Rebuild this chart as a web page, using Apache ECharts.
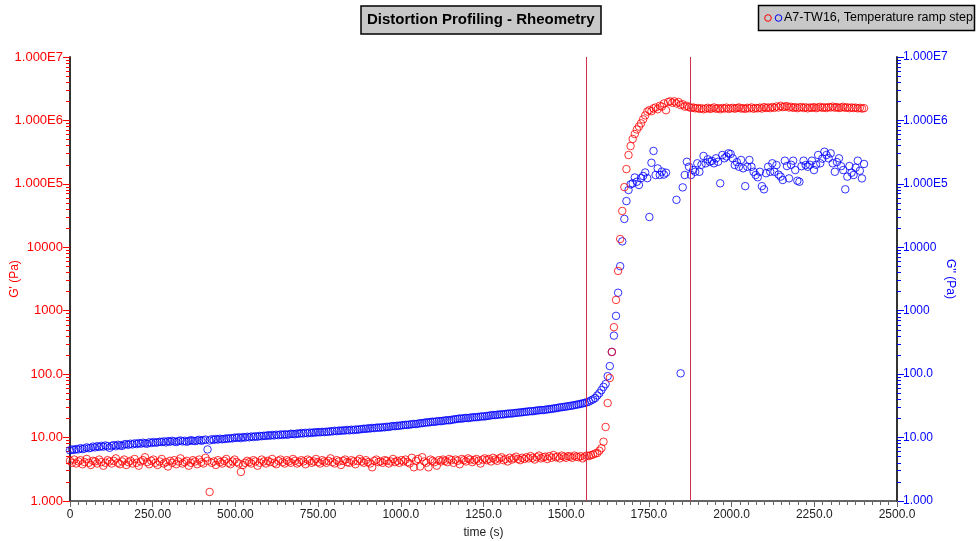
<!DOCTYPE html>
<html>
<head>
<meta charset="utf-8">
<script src="https://cdn.jsdelivr.net/npm/echarts@6/dist/echarts.min.js"></script>
<style>
html,body{margin:0;padding:0;background:#fff;}
#chart{width:978px;height:541px;}
</style>
</head>
<body>
<div id="chart"></div>
<script>
// sampling interval of the measurement (s); point i is at time i * T_STEP
const T_STEP = 6.3;

// G' (Pa), red, left axis
const gPrimeFlat = [
  4.3,4.0,4.5,3.9,4.2,4.4,3.8,4.1,4.6,4.0,3.7,4.3,4.2,3.9,4.5,4.1,3.6,4.0,4.4,4.2,
  3.9,4.3,4.7,4.0,3.8,4.2,4.5,3.7,4.1,4.3,3.9,4.6,4.0,3.6,4.2,4.4,4.9,4.1,3.8,4.3,
  4.5,4.0,3.7,4.2,4.6,3.9,4.1,3.5,4.3,4.0,4.4,3.8,4.2,4.7,3.9,4.1,4.3,3.6,4.0,4.4,
  4.2,3.8,4.5,4.1,3.9,4.8,4.3,1.39,4.0,4.2,3.7,4.4,4.1,3.9,4.3,4.6,4.0,3.8,4.2,4.5,
  4.1,3.9,2.87,3.7,4.0,4.3,4.1,3.9,4.4,4.2,3.6,4.0,4.5,4.2,3.9,4.3,4.1,4.6,4.0,3.8,
  4.3,4.5,4.1,3.9,4.4,4.2,4.0,4.6,4.3,3.9,4.1,4.4,4.2,3.8,4.5,4.3,4.0,4.2,4.6,4.1,
  3.9,4.4,4.2,4.0,4.3,4.7,4.1,3.9,4.4,4.2,3.7,4.3,4.5,4.1,4.0,4.4,4.2,3.8,4.3,4.6,
  4.2,4.0,4.4,4.1,3.9,3.4,4.3,4.5,4.1,4.2,4.0,4.4,4.3,3.9,4.2,4.6,4.1,4.3,4.0,4.4,
  4.2,4.5,4.1,3.9,4.8,3.4,4.3,4.6,3.5,4.9,4.2,4.0,3.4,4.5,4.3,4.1,3.6,4.4,4.2,4.5,
  4.3,4.1,4.6,4.4,4.0,4.5,4.3,3.8,4.6,4.4,4.2,4.7,4.5,4.1,4.4,4.6,4.3,3.9,4.5,4.7,
  4.4,4.6,4.2,4.8,4.5,4.3,4.7,4.9,4.4,4.6,4.2,4.8,4.5,4.7,5.0,4.6,4.4,4.8,4.6,4.9,
  4.7,5.1,4.8,4.5,4.9,5.2,4.7,4.9,5.0,4.6,5.1,4.8,5.3,4.9,5.0,4.7,5.2,5.0,4.8,5.1,
  5.0,4.8,5.2,5.0,4.9,5.1,4.7,5.0,5.2,5.1,5.3
];
const gPrimeRise = [
  5.4,5.6,5.7,6.2,6.8,8.6,
  14.7,35,87,224,550,1480,4240,13500,37400,89000,171000,285000,395000,510000,610000,
  720000,800000,900000,1.04e6,1.2e6,1.38e6,1.45e6,1.4e6,1.55e6,1.6e6,1.5e6,1.7e6,1.65e6,
  1.85e6,1.45e6,1.95e6,2.0e6,1.9e6,2.0e6,1.85e6,1.95e6,1.75e6,1.8e6,1.65e6,1.7e6
];
const gPrimePlateau = [
  1.62e6,1.58e6,1.6e6,1.55e6,1.57e6,1.52e6,1.56e6,1.5e6,1.54e6,1.58e6,1.52e6,1.55e6,1.6e6,1.53e6,1.56e6,1.5e6,1.57e6,1.54e6,1.59e6,1.52e6,
  1.55e6,1.58e6,1.53e6,1.57e6,1.6e6,1.54e6,1.56e6,1.52e6,1.58e6,1.55e6,1.6e6,1.53e6,1.57e6,1.55e6,1.59e6,1.54e6,1.62e6,1.57e6,1.6e6,1.56e6,
  1.63e6,1.58e6,1.66e6,1.6e6,1.7e6,1.62e6,1.65e6,1.68e6,1.6e6,1.64e6,1.58e6,1.62e6,1.56e6,1.6e6,1.63e6,1.57e6,1.61e6,1.55e6,1.6e6,1.58e6,
  1.62e6,1.56e6,1.6e6,1.64e6,1.58e6,1.61e6,1.57e6,1.63e6,1.6e6,1.65e6,1.59e6,1.62e6,1.57e6,1.6e6,1.64e6,1.58e6,1.61e6,1.56e6,1.6e6,1.57e6,
  1.59e6,1.55e6,1.58e6,1.54e6,1.56e6
];

// G'' (Pa), blue, right axis (null = no point recorded)
const gDoubleFlat = [
  6.3,6.5,6.4,6.6,6.5,6.8,6.6,6.7,7.0,6.8,6.9,7.2,
  7.0,7.3,7.1,7.4,7.2,7.5,7.3,6.9,7.4,7.6,7.3,7.7,7.5,7.4,7.8,7.9,
  7.7,8.0,7.8,8.1,7.9,8.2,8.0,8.3,8.1,8.0,8.4,8.2,8.5,8.3,8.4,8.6,
  8.5,8.7,8.4,8.8,8.6,8.9,8.7,8.5,8.8,9.0,8.7,8.9,8.6,8.8,9.1,8.9,
  8.8,9.0,9.2,8.9,9.1,9.3,6.5,9.0,9.4,9.2,9.5,9.3,9.6,9.4,9.5,9.7,
  9.6,9.8,9.7,10.0,9.9,10.1,9.8,10.2,10.0,10.3,10.1,10.4,10.2,10.5,10.3,10.6,
  10.5,10.7,10.6,10.9,10.7,11.0,10.8,11.1,10.9,11.2,11.0,11.3,11.1,11.2,11.5,11.4,
  11.3,11.6,11.5,11.8,11.6,11.9,11.7,12.0,11.8,12.1,12.0,12.2,12.1,12.3,12.2,12.4,
  12.3,12.6,12.5,12.8,12.6,12.9,12.8,13.0,12.9,13.2,13.0,13.3,13.1,13.4,13.3,13.5,
  13.6,13.8,13.7,14.0,13.9,14.2,14.1,14.3,14.4,14.3,14.6,14.5,14.8,14.7,15.0,15.2,
  15.1,15.4,15.3,15.6,15.7,15.9,15.8,16.1,16.2,16.4,16.3,16.6,16.8,16.9,17.1,17.4,
  17.3,17.6,17.8,17.7,18.0,18.2,18.1,18.4,18.6,18.8,18.7,19.0,19.3,19.5,19.7,20.0,
  19.9,20.2,20.4,20.3,20.6,20.8,21.0,20.9,21.2,21.4,21.6,21.5,21.9,22.1,22.4,22.7,
  22.6,22.9,23.1,23.3,23.2,23.6,23.8,24.0,23.9,24.3,24.5,24.7,24.9,25.1,25.4,25.6,
  25.8,26.1,26.0,26.4,26.7,26.9,27.2,27.1,27.5,27.8,28.1,28.3,28.7,29.0,29.4,29.9,
  30.1,30.5,30.8,31.2,31.6,32.0,32.4,33.0,33.4,34.0,34.6,35.2,36.0,37.0,38.5,40.0
];
const gDoubleRise = [
  42,46,50,56,63,70,93,134,224,405,830,1920,5040,12400,28000,53500,80000,
  98000,102000,126000,108000,96000,123000,133000,151000,123000,30000,215000,330000,
  138000,175000,138000,156000,140000,150000,null,null,null,null,56000,null,103,88000
];
const gDoublePlateau = [
  138000,223000,186000,138000,165000,155000,211000,155000,200000,275000,
  211000,244000,223000,230000,211000,253000,223000,102000,285000,253000,
  270000,303000,296000,253000,198000,220000,186000,238000,176000,92000,
  186000,238000,186000,155000,138000,127000,155000,92000,82000,147000,
  186000,155000,211000,155000,198000,140000,130000,115000,232000,191000,
  122000,200000,232000,165000,112000,108000,190000,232000,198000,186000,
  200000,232000,165000,200000,285000,211000,250000,321000,285000,253000,
  303000,211000,155000,220000,253000,190000,165000,82000,130000,191000,
  150000,138000,180000,232000,161000,122000,206000
];

// step markers (s)
const markerTimes = [1560, 1874];

// axis tick labels
const xTickLabels = ['0','250.00','500.00','750.00','1000.0','1250.0','1500.0','1750.0','2000.0','2250.0','2500.0'];
const yTickLabels = ['1.000','10.00','100.0','1000','10000','1.000E5','1.000E6','1.000E7'];

const gPrime = gPrimeFlat.concat(gPrimeRise, gPrimePlateau);
const gDouble = gDoubleFlat.concat(gDoubleRise, gDoublePlateau);
function toPoints(arr){
  const out = [];
  arr.forEach((v, i) => { if (v != null) out.push([+(i * T_STEP).toFixed(2), v]); });
  return out;
}

// log-position minor ticks (2..9 per decade) on overlay axes (log10 space)
const minorLog = [];
for (let d = 0; d < 7; d++) for (let k = 2; k <= 9; k++) minorLog.push(d + Math.log10(k));

const FONT = 'Liberation Sans, Arial, Helvetica, sans-serif';
const RED = '#ff0000', BLUE = '#0000ff', AXIS = '#333333';

const chart = echarts.init(document.getElementById('chart'), null, {renderer: 'canvas'});
function yLabel(v){ const e = Math.round(Math.log10(v)); return yTickLabels[e] || ''; }

chart.setOption({
  animation: false,
  backgroundColor: '#ffffff',
  title: {
    text: 'Distortion Profiling - Rheometry',
    left: 361, top: 6,
    padding: [5, 7, 5, 6],
    backgroundColor: '#c8c8c8',
    borderColor: '#000', borderWidth: 1.5,
    textStyle: {fontFamily: FONT, fontSize: 15, fontWeight: 'bold', color: '#000', lineHeight: 18}
  },
  graphic: [
    {type: 'rect', shape: {x: 758.5, y: 5.5, width: 216, height: 25}, style: {fill: '#c8c8c8', stroke: '#000', lineWidth: 1.5}},
    {type: 'circle', shape: {cx: 768, cy: 18, r: 3.3}, style: {fill: 'none', stroke: RED, lineWidth: 1}},
    {type: 'circle', shape: {cx: 778.5, cy: 18, r: 3.3}, style: {fill: 'none', stroke: BLUE, lineWidth: 1}},
    {type: 'text', x: 784, y: 18, style: {text: 'A7-TW16, Temperature ramp step', fontFamily: FONT, fontSize: 12.5, fill: '#000', verticalAlign: 'middle'}}
  ],
  grid: {left: 70, right: 81, top: 57, bottom: 40, outerBoundsMode: 'none'},
  xAxis: {
    type: 'value', min: 0, max: 2500, interval: 250,
    name: 'time (s)', nameLocation: 'middle', nameGap: 26, nameMoveOverlap: false,
    nameTextStyle: {fontFamily: FONT, fontSize: 12, color: '#222'},
    axisLine: {show: true, onZero: false, lineStyle: {color: AXIS, width: 1.5}},
    axisTick: {show: true, length: 6, lineStyle: {color: '#666'}},
    minorTick: {show: true, splitNumber: 10, length: 4, lineStyle: {color: '#666'}},
    splitLine: {show: false},
    axisLabel: {fontFamily: FONT, fontSize: 12, color: '#222', margin: 8,
      formatter: v => xTickLabels[Math.round(v / 250)]}
  },
  yAxis: [
    {
      type: 'log', logBase: 10, min: 1, max: 1e7, position: 'left',
      name: "G' (Pa)", nameLocation: 'middle', nameGap: 49, nameRotate: 90, nameMoveOverlap: false,
      nameTextStyle: {fontFamily: FONT, fontSize: 12, color: RED},
      axisLine: {show: true, lineStyle: {color: AXIS, width: 2}},
      axisTick: {show: true, length: 7, lineStyle: {color: RED}},
      splitLine: {show: false},
      axisLabel: {fontFamily: FONT, fontSize: 13, color: RED, margin: 7, formatter: yLabel}
    },
    {
      type: 'log', logBase: 10, min: 1, max: 1e7, position: 'right',
      name: "G'' (Pa)", nameLocation: 'middle', nameGap: 47, nameRotate: -90, nameMoveOverlap: false,
      nameTextStyle: {fontFamily: FONT, fontSize: 12, color: BLUE},
      axisLine: {show: true, lineStyle: {color: AXIS, width: 2}},
      axisTick: {show: true, length: 7, lineStyle: {color: BLUE}},
      splitLine: {show: false},
      axisLabel: {fontFamily: FONT, fontSize: 12, color: BLUE, margin: 6, formatter: yLabel}
    },
    {
      type: 'value', min: 0, max: 7, position: 'left', silent: true,
      axisLine: {show: false}, splitLine: {show: false}, axisLabel: {show: false},
      axisTick: {show: true, length: 4, customValues: minorLog, lineStyle: {color: RED}}
    },
    {
      type: 'value', min: 0, max: 7, position: 'right', silent: true,
      axisLine: {show: false}, splitLine: {show: false}, axisLabel: {show: false},
      axisTick: {show: true, length: 4, customValues: minorLog, lineStyle: {color: BLUE}}
    }
  ],
  series: [
    {
      name: "G''", type: 'scatter', yAxisIndex: 1,
      data: toPoints(gDouble),
      symbol: 'circle', symbolSize: 7.5,
      itemStyle: {color: 'rgba(0,0,0,0)', borderColor: BLUE, borderWidth: 1},
      emphasis: {disabled: true}
    },
    {
      name: "G'", type: 'scatter', yAxisIndex: 0,
      data: toPoints(gPrime),
      symbol: 'circle', symbolSize: 7.5,
      itemStyle: {color: 'rgba(0,0,0,0)', borderColor: RED, borderWidth: 1},
      emphasis: {disabled: true},
      markLine: {
        silent: true, symbol: 'none', animation: false,
        label: {show: false},
        lineStyle: {color: '#d0304c', width: 1, type: 'solid'},
        data: markerTimes.map(t => ({xAxis: t}))
      }
    }
  ]
});
</script>
</body>
</html>
